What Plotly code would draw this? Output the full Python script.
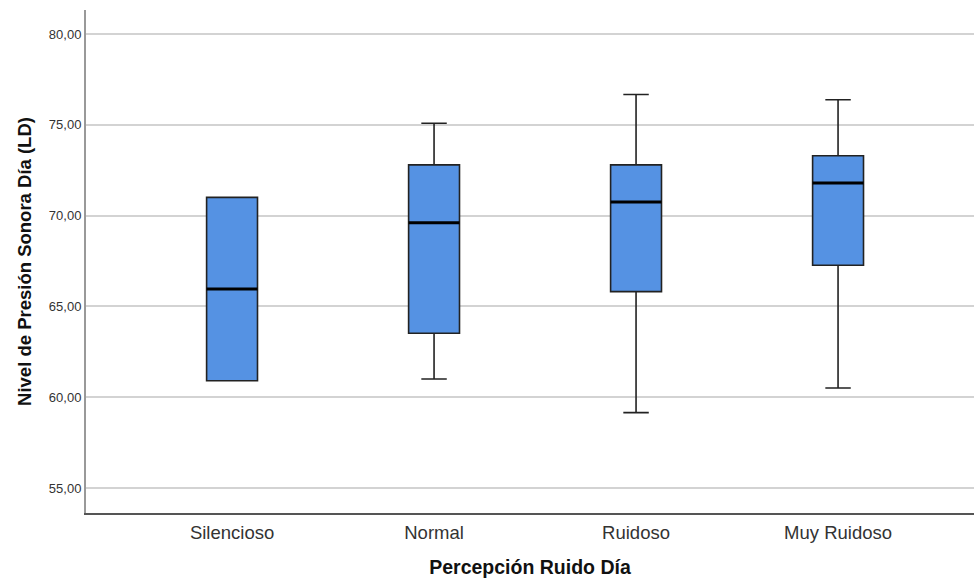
import plotly.graph_objects as go

categories = ["Silencioso", "Normal", "Ruidoso", "Muy Ruidoso"]
lower_whisker = [60.90, 61.00, 59.15, 60.50]
q1 = [60.90, 63.52, 65.81, 67.26]
median = [65.96, 69.60, 70.75, 71.79]
q3 = [71.00, 72.79, 72.79, 73.29]
upper_whisker = [71.00, 75.08, 76.67, 76.38]
y_ticks = [55, 60, 65, 70, 75, 80]
y_tick_labels = ["55,00", "60,00", "65,00", "70,00", "75,00", "80,00"]

BOX_W = 0.252
FILL = "#5592e3"
FONT = "Liberation Sans, Arial, sans-serif"

fig = go.Figure()
xs = list(range(len(categories)))
fig.add_trace(go.Box(
    x=xs, q1=q1, median=median, q3=q3,
    lowerfence=lower_whisker, upperfence=upper_whisker,
    width=BOX_W, whiskerwidth=0.5,
    fillcolor=FILL,
    line=dict(color="#222222", width=1.6),
    boxpoints=False, showlegend=False, hoverinfo="skip",
))
# thick median lines
for i, m in enumerate(median):
    fig.add_trace(go.Scatter(
        x=[i - BOX_W / 2, i + BOX_W / 2], y=[m, m], mode="lines",
        line=dict(color="black", width=3), showlegend=False, hoverinfo="skip",
    ))

fig.update_layout(
    width=974, height=578,
    margin=dict(l=86, r=0, t=10, b=65),
    plot_bgcolor="white", paper_bgcolor="white",
    font=dict(family=FONT, color="#333333"),
    showlegend=False,
)
fig.update_xaxes(
    range=[-0.723, 3.673],
    tickmode="array", tickvals=xs, ticktext=categories,
    tickfont=dict(size=18.5, color="#333333"),
    ticklabelstandoff=2,
    showline=True, linecolor="#555555", linewidth=1.5,
    showgrid=False, zeroline=False, ticks="",
    title=dict(text="<b>Percepción Ruido Día</b>", font=dict(size=19.5, color="#111111"), standoff=20),
)
fig.update_yaxes(
    range=[53.62, 81.32],
    tickmode="array", tickvals=y_ticks, ticktext=y_tick_labels,
    tickfont=dict(size=13, color="#333333"),
    showline=True, linecolor="#999999", linewidth=2,
    showgrid=True, gridcolor="#d3d3d3", gridwidth=1.5, zeroline=False, ticks="",
    title=dict(text="<b>Nivel de Presión Sonora Día (LD)</b>", font=dict(size=18.5, color="#111111"), standoff=12),
)

fig.write_html("out.html")
